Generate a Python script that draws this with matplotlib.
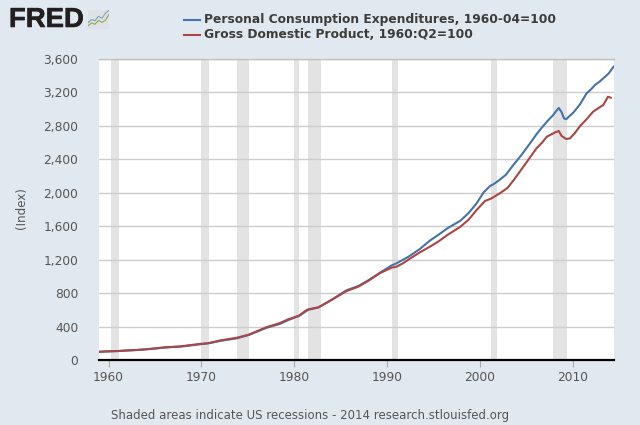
import matplotlib
matplotlib.use("Agg")
import matplotlib.pyplot as plt
import matplotlib.patheffects as pe
from datetime import datetime

pce_years = [1959.0,1960,1961,1962,1963,1964,1965,1966,1967,1967.7,1969.84,1970.8,1972,1973.8,1975.1,1976,1977,1978.46,
             1979.3,1980.1,1980.5,1981.2,1981.5,1982.6,1984,1985.65,1986.9,1988,1989.2,1990.5,1991,1992.3,
             1993.5,1994.6,1995.5,1996.5,1997.9,1998.8,1999.65,2000.4,2001.1,2001.5,2002,2002.8,2003.6,2004.5,2005.4,
             2006.1,2006.7,2007.3,2007.9,2008.2,2008.5,2008.8,2009.06,2009.3,2009.5,2010.06,2010.8,2011.5,2012.0,2012.4,
             2012.9,2013.3,2013.9,2014.4]
pce_values = [98,104,107,113,119,127,137,148,156,159,188,200,228,259,299,340,385,432,
              475,510,525,578,600,628,718,835,885,955,1042,1132,1155,1235,
              1325,1427,1495,1575,1666,1760,1874,2005,2081,2105,2144,2215,2332,2455,2591,
              2700,2783,2860,2930,2975,3014,2965,2890,2880,2902,2958,3060,3190,3240,3289,
              3330,3369,3430,3508]

gdp_years = [1959.0,1960,1961,1962,1963,1964,1965,1966,1967,1967.7,1969.84,1970.8,1972,1973.8,1975.1,1976,1977,1978.46,
             1979.3,1980.1,1980.5,1981.2,1981.5,1982.6,1984,1985.65,1986.9,1988,1989.2,1990.5,1991,1991.7,1992.5,
             1993.5,1994.6,1995.5,1996.5,1997.9,1998.8,1999.65,2000.55,2001.2,2002.15,2003,2003.7,2005,2006.1,2006.7,
             2007.2,2007.7,2008.1,2008.5,2008.8,2009.3,2009.7,2010.2,2010.8,2011.5,2012.2,2012.8,2013.3,2013.8,2014.1]
gdp_values = [99,103,107,115,120,128,139,151,158,163,192,203,233,266,303,345,392,442,
              485,515,530,588,606,630,718,825,877,948,1037,1105,1115,1156,1215,
              1285,1355,1415,1495,1594,1680,1794,1902,1930,1994,2060,2161,2360,2532,2600,
              2670,2699,2722,2739,2680,2643,2650,2710,2799,2880,2970,3015,3050,3149,3137]

rec_starts = ["1960-04","1969-12","1973-11","1980-01","1981-07","1990-07","2001-03","2007-12"]
rec_ends = ["1961-02","1970-11","1975-03","1980-07","1982-11","1991-03","2001-11","2009-06"]
y_ticks = [0,400,800,1200,1600,2000,2400,2800,3200,3600]
x_ticks = [1960,1970,1980,1990,2000,2010]
pce_label = "Personal Consumption Expenditures, 1960-04=100"
gdp_label = "Gross Domestic Product, 1960:Q2=100"

def yearfrac(s):
    d = datetime.strptime(s, "%Y-%m")
    return d.year + (d.month - 1) / 12

BG = "#E1E9F0"
W, H = 640, 425
fig = plt.figure(figsize=(6.4, 4.25), dpi=100, facecolor=BG)
ax = fig.add_axes([99/W, 1-360/H, (614-99)/W, (360-59)/H])
ax.set_xlim(1958.96, 2014.45)
ax.set_ylim(0, 3600)
ax.set_facecolor("white")

for a, b in zip(rec_starts, rec_ends):
    ax.axvspan(yearfrac(a), yearfrac(b), color="#E3E3E3", lw=0, zorder=1)
ax.set_yticks(y_ticks)
ax.set_yticklabels([f"{v:,}" for v in y_ticks], fontsize=8.8, color="#555555")
ax.set_xticks(x_ticks)
ax.set_xticklabels([str(v) for v in x_ticks], fontsize=8.8, color="#555555")
ax.grid(axis="y", color="#CCCCCC", lw=1.0, zorder=2)
ax.tick_params(axis="y", length=0, pad=15)
ax.tick_params(axis="x", length=5, width=0.8, color="#AAAAAA", pad=3)
for s in ["left", "right"]:
    ax.spines[s].set_visible(False)
ax.spines["top"].set_color("#C0C0C0")
ax.spines["top"].set_linewidth(1.0)
ax.spines["bottom"].set_color("black")
ax.spines["bottom"].set_linewidth(1.6)

ax.plot(pce_years, pce_values, color="#4572A7", lw=1.5, zorder=3, solid_joinstyle="round")
ax.plot(gdp_years, gdp_values, color="#AA4643", lw=1.5, zorder=4, solid_joinstyle="round")

ax.set_ylabel("(Index)", fontsize=8.6, color="#555555")
ax.yaxis.set_label_coords((28-99)/515, 0.505)

# legend
for y, col, lab in [(20, "#4572A7", pce_label), (35, "#AA4643", gdp_label)]:
    fig.add_artist(plt.Line2D([184/W, 200/W], [1-y/H, 1-y/H], color=col, lw=1.5))
    fig.text(204.5/W, 1-y/H, lab, fontsize=8.86, fontweight="bold", color="#3C3C3C",
             family="DejaVu Sans", va="center", ha="left")

# footer
fig.text(111/W, 1-416/H, "Shaded areas indicate US recessions - 2014 research.stlouisfed.org",
         fontsize=8.44, color="#555555", va="center", ha="left")

# logo
t = fig.text(9/W, 1-20/H, "FRED", fontsize=19.8, fontweight="bold", family="Liberation Sans",
             color="#231F20", va="center", ha="left")
t.set_path_effects([pe.withStroke(linewidth=0.4, foreground="#231F20")])
logo = fig.add_axes([88/W, 1-29/H, 21/W, 19/H])
logo.set_facecolor("#DDE2E4")
logo.set_xticks([]); logo.set_yticks([])
for s in logo.spines.values():
    s.set_visible(False)
logo.set_xlim(0, 6); logo.set_ylim(0, 6)
logo.plot([0,1,2,3,4,5,6], [2,3,2.6,4,3.4,5,5.9], color="#7F9FBF", lw=0.8)
logo.plot([0,1,2,3,4,5,6], [1,1.9,1.5,2.7,2.1,2.8,4.6], color="#8DAA4A", lw=0.8)

fig.savefig("out.png", dpi=100, facecolor=BG)
